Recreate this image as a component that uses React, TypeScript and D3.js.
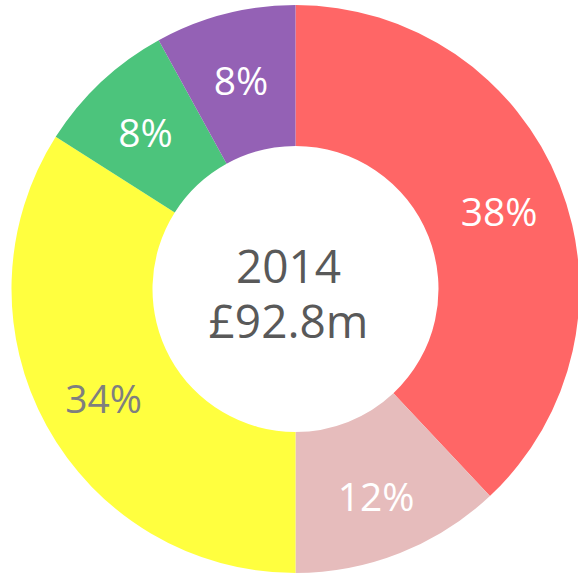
import { useEffect, useRef } from "react";
import * as d3 from "d3";

const categories = ["A", "B", "C", "D", "E"];
const shares = [38, 12, 34, 8, 8];
const sliceColors = ["#FF6666", "#E6BCBC", "#FFFF3F", "#4CC47C", "#9461B5"];
const labelColors = ["#FFFFFF", "#FFFFFF", "#7F7F7F", "#FFFFFF", "#FFFFFF"];
const centerLines = ["2014", "£92.8m"];

export default function App() {
  const svgRef = useRef<SVGSVGElement>(null);

  useEffect(() => {
    if (!svgRef.current) return;
    const svg = d3.select(svgRef.current);
    svg.selectAll("*").remove();

    const width = 578;
    const height = 576;
    const cx = 295.5;
    const cy = 289;
    const outer = 284;
    const inner = 143;

    const data = categories.map((c, i) => ({ name: c, value: shares[i], i }));

    const pie = d3
      .pie<{ name: string; value: number; i: number }>()
      .value((d) => d.value)
      .sort(null);

    const arc = d3
      .arc<d3.PieArcDatum<{ name: string; value: number; i: number }>>()
      .innerRadius(inner)
      .outerRadius(outer);

    // labels sit a bit outside the mid ring, like Excel does
    const labelArc = d3
      .arc<d3.PieArcDatum<{ name: string; value: number; i: number }>>()
      .innerRadius(148)
      .outerRadius(290);

    const g = svg.append("g").attr("transform", `translate(${cx},${cy})`);
    const arcs = pie(data);

    g.selectAll("path.slice")
      .data(arcs)
      .join("path")
      .attr("class", "slice")
      .attr("d", arc)
      .attr("fill", (d) => sliceColors[d.data.i]);

    // percentage labels
    g.selectAll("text.pct")
      .data(arcs)
      .join("text")
      .attr("class", "pct")
      .attr("x", (d) => labelArc.centroid(d)[0])
      .attr("y", (d) => labelArc.centroid(d)[1] + 18)
      .attr("text-anchor", "middle")
      .style("font-family", "'Open Sans', sans-serif")
      .style("font-size", "39px")
      .style("fill", (d) => labelColors[d.data.i])
      .text((d) => `${d.data.value}%`);

    // centre text
    g.selectAll("text.center")
      .data(centerLines)
      .join("text")
      .attr("class", "center")
      .attr("x", -7)
      .attr("y", (_, i) => -6 + i * 55)
      .attr("text-anchor", "middle")
      .style("font-family", "'Open Sans', sans-serif")
      .style("font-size", "46px")
      .style("fill", "#595959")
      .text((d) => d);

    svg.attr("width", width).attr("height", height);
  }, []);

  return (
    <svg
      ref={svgRef}
      width={578}
      height={576}
      style={{ position: "absolute", left: 0, top: 0, background: "#fff" }}
    />
  );
}
